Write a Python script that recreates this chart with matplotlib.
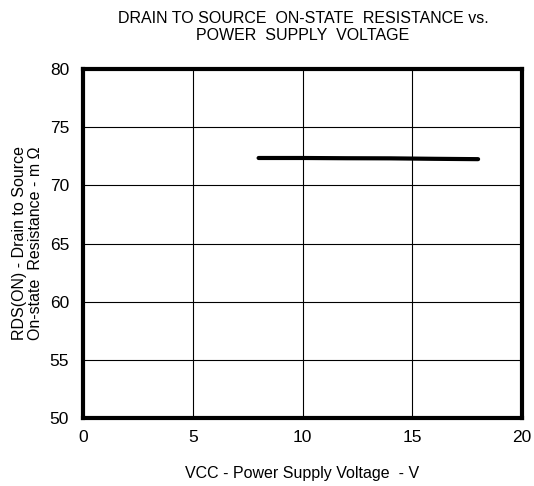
import matplotlib
matplotlib.use("Agg")
import matplotlib.pyplot as plt

plt.rcParams['font.family'] = ['Liberation Sans', 'DejaVu Sans']

vcc = [8, 10, 12, 14, 16, 18]
rds = [72.35, 72.35, 72.33, 72.32, 72.28, 72.25]

x_ticks = [0, 5, 10, 15, 20]
y_ticks = [50, 55, 60, 65, 70, 75, 80]

fig = plt.figure(figsize=(5.34, 4.86), dpi=100)
ax = fig.add_axes([83/534, 1-418/486, (522-83)/534, (418-69)/486])

ax.plot(vcc, rds, color='black', linewidth=3, solid_capstyle='round', zorder=3)

ax.set_xlim(0, 20)
ax.set_ylim(50, 80)
ax.set_xticks(x_ticks)
ax.set_yticks(y_ticks)
ax.grid(True, color='black', linewidth=0.8)
ax.tick_params(axis='x', length=0, labelsize=12.5, pad=8.5)
ax.tick_params(axis='y', length=0, labelsize=12.5, pad=10)
for s in ax.spines.values():
    s.set_linewidth(3)

ax.set_xlabel('VCC - Power Supply Voltage  - V', fontsize=11.5, labelpad=15)
ax.set_ylabel('RDS(ON) - Drain to Source\nOn-state  Resistance - m Ω', fontsize=11.5, labelpad=5, linespacing=1.05)
fig.text(303/534, 1-27/486, 'DRAIN TO SOURCE  ON-STATE  RESISTANCE vs.\nPOWER  SUPPLY  VOLTAGE',
         ha='center', va='center', fontsize=11.5, linespacing=1.2)

fig.savefig('out.png', dpi=100)
